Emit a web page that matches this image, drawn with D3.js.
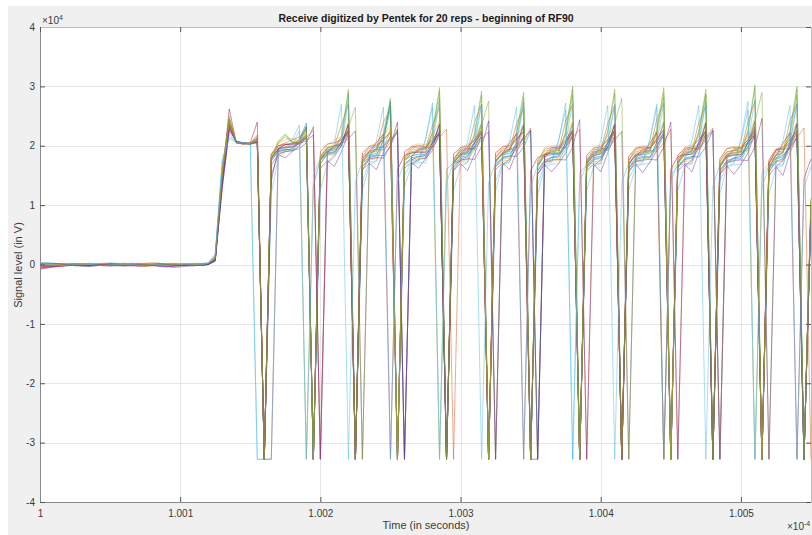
<!DOCTYPE html>
<html><head><meta charset="utf-8">
<script src="https://cdn.jsdelivr.net/npm/d3@7"></script>
<style>
body{margin:0;background:#fff}
svg{display:block}
text{font-family:"Liberation Sans",Arial,Helvetica,sans-serif}
</style>
</head><body>
<svg id="chart" width="812" height="535"></svg>
<script>
// ---------- text ----------
const titleText = "Receive digitized by Pentek for 20 reps - beginning of RF90";
const xLabelText = "Time (in seconds)";
const yLabelText = "Signal level (in V)";

// ---------- ticks ----------
const xTicks = [1, 1.001, 1.002, 1.003, 1.004, 1.005];          // x 10^-4 s
const xTickLabels = ["1", "1.001", "1.002", "1.003", "1.004", "1.005"];
const yTicks = [-4, -3, -2, -1, 0, 1, 2, 3, 4];                   // x 10^4 V
const yTickLabels = ["-4", "-3", "-2", "-1", "0", "1", "2", "3", "4"];

// ---------- sampling (time axis, x 10^-4 s) ----------
const t0 = 1, dt = 0.00005, nSamples = 111;

// ---------- series values, in units of 100 V ----------
// samples 0..24 : quiet baseline before the pulse
const baseline = [
 [-2,-1,0,1,0,-1,-2,-1,0,1,2,1,0,-1,0,1,0,-1,-2,-1,0,1,0,-1,0],
 [-6,-4,-2,-1,0,1,1,0,-1,-2,-1,0,1,2,1,0,-1,-1,0,1,0,-1,-2,-1,1],
 [1,0,-1,-2,-1,0,1,2,1,0,-1,0,1,0,-2,-3,-2,-1,0,1,1,0,-1,0,2],
 [-3,-2,-3,-2,-1,-2,-1,0,-1,-2,-3,-2,-1,0,1,0,-1,-3,-4,-3,-2,-1,0,-1,0],
 [2,1,0,1,2,1,0,-1,0,1,2,1,0,-1,-2,-1,0,1,0,-1,0,1,2,1,2],
 [-1,0,1,0,-1,-2,-1,0,1,2,3,2,1,0,-1,0,1,2,1,0,-1,0,1,2,3],
 [-8,-6,-4,-3,-2,-1,0,-1,-2,-1,0,1,0,-1,-2,-3,-2,-1,0,-1,-2,-1,0,1,0],
 [0,1,2,1,0,-1,-2,-3,-2,-1,0,1,2,1,0,-1,0,1,0,-1,-2,-1,0,1,1],
 [3,2,1,0,-1,0,1,2,1,0,-1,-2,-1,0,1,2,3,2,1,0,-1,0,1,0,2],
 [-2,-3,-2,-1,0,1,0,-1,-2,-1,0,1,2,1,0,-1,-2,-1,0,1,2,1,0,1,1],
 [-5,-4,-3,-2,-1,-2,-3,-2,-1,0,-1,-2,-3,-2,-1,0,-1,-2,-3,-5,-4,-3,-2,-1,0],
 [1,2,1,0,-1,-2,-1,0,1,0,-1,0,1,2,1,0,-1,-2,-1,0,1,0,-1,0,1],
 [0,-1,-2,-1,0,1,2,1,0,-1,-2,-1,0,1,0,-1,0,1,2,1,0,-1,0,1,3],
 [-4,-3,-2,-2,-1,0,-1,-2,-1,0,1,0,-1,-2,-3,-2,-1,0,-1,-2,-1,0,-1,-2,0],
 [2,3,2,1,0,-1,0,1,0,-1,-2,-1,0,1,2,1,0,-1,0,1,0,-1,-2,-1,1],
 [-1,-2,-1,0,1,2,1,0,-1,0,1,0,-1,-2,-1,0,1,2,1,0,-1,-2,-1,0,1],
 [0,1,0,-1,-2,-1,0,1,2,1,0,-1,0,1,2,1,0,-1,-2,-1,0,1,0,-1,2],
 [-7,-5,-4,-3,-2,-1,-2,-3,-2,-1,0,-1,-2,-1,0,-1,-2,-3,-4,-3,-2,-1,-2,-1,0],
 [1,0,1,2,1,0,-1,0,1,2,1,0,-1,-2,-1,0,1,0,-1,0,1,2,1,0,2],
 [-1,0,-1,-2,-1,0,1,0,-1,-2,-1,0,1,0,-1,-2,-1,0,1,2,1,0,-1,0,2]
];
// samples 25..110 : RF pulse (clipped at -32768 V on the troughs)
const pulse = [
 [8,140,235,207,204,203,206,  -328,180,194,197,199,204,212,  -328,178,190,193,203,218,  -328,175,184,187,200,214,  -328,176,183,186,185,200,220,  -328,172,184,186,198,216,  -328,174,185,187,200,214,  -328,168,182,185,186,198,218,  -328,172,183,186,198,215,  -328,170,182,185,187,200,218,  -328,172,184,186,200,220,  -328,168,181,184,185,198,216,  -328,166,180,184,198,214,  -328,95],
 [12,160,245,205,203,204,210,  -328,185,200,202,201,206,218,  -328,182,197,199,206,225,  -328,180,192,194,193,205,228,  -328,182,193,195,205,222,  -328,178,191,193,205,224,  -328,180,192,194,192,206,230,  -328,183,191,194,205,225,  -328,176,190,192,205,226,  -328,176,190,193,192,191,205,228,  -328,182,193,205,224,  -328,174,190,192,191,205,222,  -328,172,189,191,205,225,  -328,100],
 [10,155,238,206,205,204,212,  -328,176,190,192,191,200,222,  -328,170,186,188,200,238,  -328,165,178,180,196,230,  -328,168,177,179,178,196,240,  -328,162,176,178,194,235,  -328,165,177,179,196,232,  -328,158,174,177,178,194,238,  -328,162,176,178,195,236,  -328,160,175,178,178,196,240,  -328,162,176,179,196,238,  -328,156,174,177,177,194,242,  -328,155,173,176,195,236,  -328,102],
 [6,130,225,208,204,203,208,  -328,140,196,202,203,204,208,218,  -328,188,200,202,212,225,  -328,185,196,198,210,222,  -328,182,195,197,208,220,  -328,176,194,196,195,210,224,  -328,186,195,197,212,226,  -328,180,194,196,208,222,  -328,174,193,195,194,210,224,  -328,182,194,196,208,220,  -328,172,192,195,194,210,226,  -328,180,193,195,206,218,  -328,170,192,194,206,220,  -328,90],
 [11,158,250,206,203,203,205,  -328,185,205,218,205,206,230,  -328,178,194,197,215,290,  -328,172,188,190,218,270,  -328,175,188,190,189,222,292,  -328,170,186,189,218,285,  -328,172,187,190,222,282,  -328,165,185,188,188,222,295,  -328,170,186,189,222,288,  -328,168,185,188,189,226,290,  -328,170,186,189,222,288,  -328,164,184,187,188,222,298,  -328,162,184,187,222,295,  -328,110],
 [15,170,215,207,205,204,  -328,-328,185,194,196,203,225,  -328,130,178,184,186,205,285,  -328,140,172,175,210,275,  -328,150,172,174,210,265,  -328,160,171,173,172,210,270,  -328,140,170,173,210,275,  -328,135,168,172,210,260,  -328,155,168,171,170,208,270,  -328,145,168,171,208,265,  -328,150,167,170,170,208,272,  -328,140,166,170,208,260,  -328,150,165,168,168,205,270,  -328,105],
 [9,145,262,205,204,205,240,  -328,-328,195,202,203,210,232,  -328,190,203,205,210,226,  -328,188,199,201,210,222,  -328,190,198,200,199,210,228,  -328,186,197,199,210,226,  -328,188,198,200,212,224,  -328,-328,185,197,198,210,228,  -328,184,196,198,210,226,  -328,182,196,198,197,212,228,  -328,184,196,198,210,226,  -328,178,195,197,196,210,232,  -328,176,194,197,210,226,  -328,98],
 [7,138,232,206,204,203,207,  -328,178,192,194,193,205,215,  -328,175,188,190,205,222,  -328,170,182,184,183,200,226,  -328,176,182,184,200,224,  -328,168,181,183,198,222,  -328,168,181,183,182,198,225,  -328,172,181,183,198,224,  -328,166,180,182,198,222,  -328,164,179,182,181,198,224,  -328,164,179,182,181,198,226,  -328,170,180,182,198,224,  -328,160,178,181,198,222,  -328,96],
 [13,162,244,204,203,204,218,  -328,186,200,205,210,215,228,  -328,180,196,200,235,270,  -328,175,190,193,240,262,  -328,178,190,192,195,235,265,  -328,172,188,191,240,270,  -328,174,189,192,238,262,  -328,168,187,190,192,242,270,  -328,172,188,191,238,268,  -328,170,187,190,191,245,272,  -328,172,188,191,240,268,  -328,166,186,189,190,240,275,  -328,164,185,189,242,270,  -328,108],
 [14,165,236,205,204,203,204,  -328,180,188,190,205,215,  -328,150,180,184,186,200,228,  -328,165,176,178,196,225,  -328,166,175,177,196,222,  -328,160,172,175,176,195,226,  -328,165,174,176,196,225,  -328,158,172,174,175,194,228,  -328,163,173,175,195,226,  -328,163,173,175,194,224,  -328,158,171,174,174,194,228,  -328,160,172,174,193,224,  -328,156,170,173,173,192,226,  -328,104],
 [5,128,228,207,205,204,209,  -328,168,185,180,190,200,214,  -328,162,175,165,190,220,  -328,160,170,160,188,216,  -328,162,172,162,178,192,220,  -328,158,170,158,186,218,  -328,160,171,160,190,216,  -328,152,168,156,170,188,218,  -328,158,169,156,188,217,  -328,158,169,155,172,192,219,  -328,158,169,156,188,220,  -328,152,166,152,168,188,220,  -328,150,165,150,188,216,  -328,92],
 [11,150,240,205,204,203,211,  -328,176,205,215,206,205,232,  -328,178,198,200,199,232,265,  -328,182,196,215,260,  -328,178,193,195,194,215,280,  -328,174,192,194,193,235,275,  -328,185,194,215,272,  -328,170,191,193,192,218,285,  -328,170,190,193,192,238,280,  -328,180,191,193,220,282,  -328,176,190,192,218,285,  -328,168,189,192,191,192,240,290,  -328,178,190,215,285,  -328,108],
 [16,172,220,206,204,203,206,  -328,120,180,190,192,200,226,  -328,125,170,180,200,275,  -328,125,168,174,205,265,  -328,130,168,172,171,205,275,  -328,125,166,171,202,270,  -328,125,167,172,205,268,  -328,118,164,169,170,205,272,  -328,125,165,170,205,268,  -328,125,165,169,170,206,272,  -328,125,165,170,205,275,  -328,120,163,168,169,206,278,  -328,118,162,167,205,272,  -328,85],
 [8,142,236,206,203,204,213,  -328,180,195,198,197,204,218,  -328,176,192,195,206,224,  -328,178,190,205,220,  -328,160,184,188,189,188,205,224,  -328,172,185,188,205,222,  -328,176,187,205,220,  -328,158,180,185,187,186,204,225,  -328,170,184,187,204,224,  -328,170,184,186,204,222,  -328,160,182,185,186,204,225,  -328,164,182,185,185,204,228,  -328,172,183,204,222,  -328,145,178],
 [9,146,242,207,205,203,208,  -328,175,190,193,195,210,238,  -328,170,186,189,205,236,  -328,165,180,183,210,275,  -328,168,180,182,181,205,236,  -328,164,178,181,204,238,  -328,165,179,182,205,234,  -328,158,176,180,181,204,238,  -328,164,177,180,204,236,  -328,162,177,180,180,206,238,  -328,164,177,180,204,238,  -328,158,175,179,179,206,242,  -328,156,174,178,204,238,  -328,97],
 [10,152,238,205,204,204,216,  -328,177,200,203,204,206,214,226,  -328,190,200,210,226,  -328,182,196,198,210,224,  -328,180,196,198,197,198,214,228,  -328,188,197,210,226,  -328,180,195,197,210,224,  -328,174,194,197,196,197,214,228,  -328,186,196,210,226,  -328,176,194,196,196,210,226,  -328,176,194,196,196,214,230,  -328,184,195,197,210,226,  -328,170,193,195,195,214,230,  -328],
 [12,156,241,206,205,204,210,  -328,185,204,210,212,208,222,  -328,182,202,210,215,240,  -328,180,200,204,215,236,  -328,182,200,203,202,215,242,  -328,178,198,202,214,238,  -328,180,199,203,215,236,  -328,174,197,200,201,215,242,  -328,178,198,201,215,238,  -328,176,197,200,200,218,242,  -328,178,198,201,215,242,  -328,172,196,199,199,215,246,  -328,170,195,199,215,240,  -328,106],
 [7,135,230,207,205,203,206,  -328,150,186,190,192,195,205,232,  -328,172,184,200,236,  -328,160,178,180,179,200,240,  -328,168,177,179,198,236,  -328,158,176,178,177,198,242,  -328,168,177,198,236,  -328,152,172,176,177,176,198,244,  -328,166,176,198,236,  -328,156,174,176,177,176,198,240,  -328,166,176,198,238,  -328,152,172,175,176,175,198,246,  -328,164,175,198,236,  -328,92],
 [10,150,246,205,203,204,212,  -328,178,208,220,207,204,228,  -328,175,193,196,215,295,  -328,172,189,191,220,280,  -328,174,188,191,190,224,298,  -328,170,187,190,220,292,  -328,172,188,191,224,290,  -328,165,186,189,189,224,300,  -328,170,187,190,224,295,  -328,168,186,189,190,228,298,  -328,170,187,190,224,295,  -328,164,185,188,189,224,302,  -328,162,184,188,224,300,  -328,112],
 [18,178,212,206,205,204,  -328,-328,-328,185,192,210,235,  -328,135,178,184,205,270,  -328,140,174,178,208,265,  -328,140,172,176,175,210,272,  -328,138,172,176,206,268,  -328,138,172,176,208,265,  -328,130,168,173,174,208,272,  -328,138,170,174,208,268,  -328,138,170,173,174,210,270,  -328,138,170,174,208,268,  -328,132,168,172,173,210,275,  -328,130,166,171,208,268,  -328,130,165]
];
const valueUnit = 100;   // stored values are in units of 100 V
const lineColors = ["#0072BD","#D95319","#EDB120","#7E2F8E","#77AC30","#4DBEEE","#A2142F"];

// ---------- layout ----------
const W = 812, H = 535;
const plot = {left: 40, right: 811, top: 27, bottom: 502};

const svg = d3.select("#chart");
svg.append("rect").attr("width", W).attr("height", H).attr("fill", "#ffffff");
svg.append("rect").attr("x", 8).attr("y", 6).attr("width", W - 8).attr("height", H - 6).attr("fill", "#f0f0f0");
svg.append("rect").attr("x", plot.left).attr("y", plot.top)
   .attr("width", plot.right - plot.left).attr("height", plot.bottom - plot.top).attr("fill", "#ffffff");

const x = d3.scaleLinear().domain([1, 1.0055]).range([plot.left, plot.right]);
const y = d3.scaleLinear().domain([-40000, 40000]).range([plot.bottom, plot.top]);

// grid
const grid = svg.append("g").attr("stroke", "#e6e6e6").attr("stroke-width", 1);
grid.selectAll(".gx").data(xTicks).join("line")
  .attr("x1", d => Math.round(x(d)) + 0.5).attr("x2", d => Math.round(x(d)) + 0.5)
  .attr("y1", plot.top).attr("y2", plot.bottom);
grid.selectAll(".gy").data(yTicks).join("line")
  .attr("y1", d => Math.round(y(d * 1e4)) + 0.5).attr("y2", d => Math.round(y(d * 1e4)) + 0.5)
  .attr("x1", plot.left).attr("x2", plot.right);

// lines
svg.append("clipPath").attr("id", "clip").append("rect")
  .attr("x", plot.left).attr("y", plot.top).attr("width", plot.right - plot.left).attr("height", plot.bottom - plot.top);
const line = d3.line().x((d, i) => x(t0 + i * dt)).y(d => y(d * valueUnit));
const reps = baseline.map((b, r) => b.concat(pulse[r]));
svg.append("g").attr("clip-path", "url(#clip)")
  .selectAll("path").data(reps).join("path")
  .attr("d", line)
  .attr("fill", "none")
  .attr("stroke", (d, i) => lineColors[i % lineColors.length])
  .attr("stroke-width", 0.55)
  .attr("stroke-opacity", 0.9)
  .attr("stroke-linejoin", "round");

// axes
const axisColor = "#8a8a8a", labelColor = "#3a3a3a";
function styleAxis(g) {
  g.select(".domain").attr("stroke", axisColor);
  g.selectAll(".tick line").attr("stroke", "#555");
  g.selectAll(".tick text").attr("fill", labelColor).attr("font-size", 10)
    .attr("font-family", '"Liberation Sans",Arial,sans-serif');
}
svg.append("g").attr("transform", `translate(0,${plot.bottom})`)
  .call(d3.axisBottom(x).tickValues(xTicks).tickFormat((d, i) => xTickLabels[i])
        .tickSizeInner(-5).tickSizeOuter(0).tickPadding(8))
  .call(styleAxis);
svg.append("g").attr("transform", `translate(${plot.left},0)`)
  .call(d3.axisLeft(y).tickValues(yTicks.map(v => v * 1e4)).tickFormat((d, i) => yTickLabels[i])
        .tickSizeInner(-5).tickSizeOuter(0).tickPadding(5))
  .call(styleAxis);
svg.append("g").attr("transform", `translate(0,${plot.top})`)
  .call(d3.axisTop(x).tickValues(xTicks).tickFormat("").tickSizeInner(-5).tickSizeOuter(0))
  .call(g => { g.select(".domain").attr("stroke", "#bdbdbd"); g.selectAll(".tick line").attr("stroke", "#555"); });
svg.append("g").attr("transform", `translate(${plot.right},0)`)
  .call(d3.axisRight(y).tickValues(yTicks.map(v => v * 1e4)).tickFormat("").tickSizeInner(-5).tickSizeOuter(0))
  .call(g => { g.select(".domain").attr("stroke", "#bdbdbd"); g.selectAll(".tick line").attr("stroke", "#555"); });

// exponent labels
const e1 = svg.append("text").attr("x", 42).attr("y", 24).attr("font-size", 10).attr("fill", labelColor);
e1.append("tspan").text("\u00d710");
e1.append("tspan").attr("dy", -4).attr("font-size", 7).text("4");
const e2 = svg.append("text").attr("x", 787).attr("y", 530).attr("font-size", 10).attr("fill", labelColor);
e2.append("tspan").text("\u00d710");
e2.append("tspan").attr("dy", -4).attr("font-size", 7).text("-4");

// title & labels
svg.append("text").attr("x", 426).attr("y", 22).attr("text-anchor", "middle")
  .attr("font-size", 10.5).attr("font-weight", "bold").attr("fill", "#1a1a1a").text(titleText);
svg.append("text").attr("x", 426).attr("y", 529).attr("text-anchor", "middle")
  .attr("font-size", 11).attr("fill", labelColor).text(xLabelText);
svg.append("text").attr("transform", "translate(22,265) rotate(-90)").attr("text-anchor", "middle")
  .attr("font-size", 11).attr("fill", labelColor).text(yLabelText);
</script>
</body></html>
